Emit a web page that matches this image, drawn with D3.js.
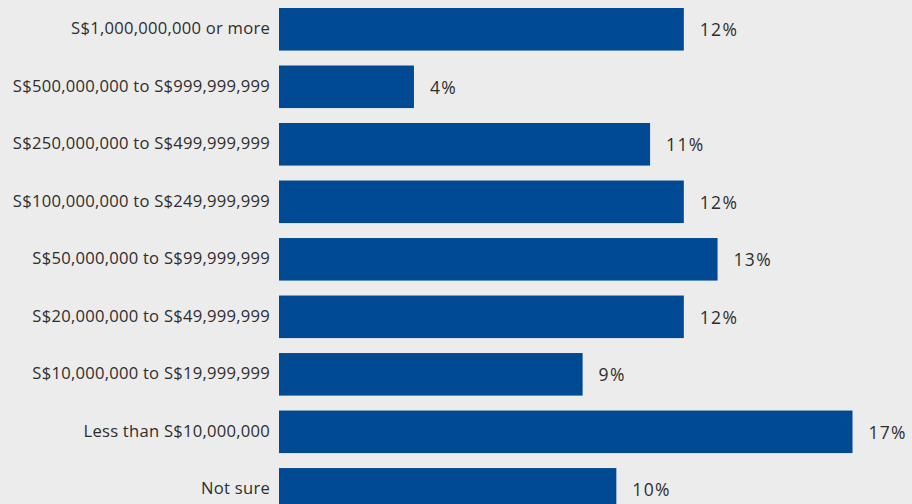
<!DOCTYPE html>
<html>
<head>
<meta charset="utf-8">
<script src="https://cdn.jsdelivr.net/npm/d3@7"></script>
<style>
  html, body { margin: 0; padding: 0; background: #ececec; }
  svg { display: block; }
  text { font-family: "Open Sans", "Noto Sans", sans-serif; fill: #2e2e2e; }
</style>
</head>
<body>
<svg id="chart" width="912" height="504"></svg>
<script>
// Company revenue bands and share of respondents (%)
const categories = [
  "S$1,000,000,000 or more",
  "S$500,000,000 to S$999,999,999",
  "S$250,000,000 to S$499,999,999",
  "S$100,000,000 to S$249,999,999",
  "S$50,000,000 to S$99,999,999",
  "S$20,000,000 to S$49,999,999",
  "S$10,000,000 to S$19,999,999",
  "Less than S$10,000,000",
  "Not sure"
];
const shares = [12, 4, 11, 12, 13, 12, 9, 17, 10];

const width = 912, height = 504;
const svg = d3.select("#chart");

const x = d3.scaleLinear().domain([0, 17]).range([279, 852.5]);
const y = d3.scaleBand().domain(categories).range([8, 510.6]).paddingInner(0.26).paddingOuter(0);

const data = categories.map((c, i) => ({ category: c, value: shares[i] }));

// bars
svg.append("g").selectAll("rect")
  .data(data)
  .join("rect")
  .attr("x", x(0))
  .attr("y", d => y(d.category))
  .attr("width", d => x(d.value) - x(0))
  .attr("height", y.bandwidth())
  .attr("fill", "#004a93");

// category axis labels
const yAxis = d3.axisLeft(y).tickSize(0).tickPadding(9);
const gy = svg.append("g").attr("transform", `translate(${x(0)},0)`).call(yAxis);
gy.select(".domain").remove();
gy.selectAll("text")
  .style("font-family", "'Open Sans', 'Noto Sans', sans-serif")
  .style("font-size", "16.6px")
  .style("letter-spacing", "0.25px")
  .attr("dy", "0.3em")
  .attr("fill", "#2e2e2e");

// value labels
svg.append("g").selectAll("text")
  .data(data)
  .join("text")
  .attr("x", d => x(d.value) + 16)
  .attr("y", d => y(d.category) + y.bandwidth() / 2 + 1)
  .attr("dy", "0.35em")
  .style("font-size", "17.5px")
  .style("letter-spacing", "1.3px")
  .text(d => d.value + "%");
</script>
</body>
</html>
